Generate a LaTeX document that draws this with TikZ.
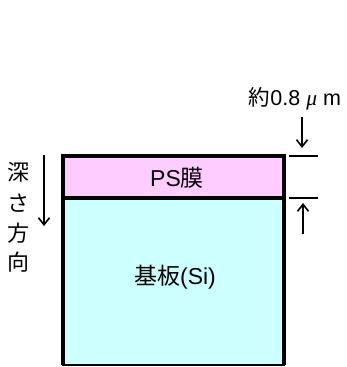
\documentclass[tikz,border=0pt]{standalone}
\usepackage{fontspec}
\setmainfont{Liberation Sans}
\newfontfamily\jp{Noto Sans CJK JP}
\usetikzlibrary{arrows.meta}
\definecolor{pspink}{HTML}{FFCCFF}
\definecolor{sicyan}{HTML}{CCFFFF}
\tikzset{
  border/.style={line width=3.4pt},
  dimline/.style={line width=1.6pt},
  arr/.style={line width=1.6pt,-{Straight Barb[length=7pt,width=11pt,line width=1.6pt]}},
  boxlbl/.style={inner sep=0pt,font=\fontsize{23}{23}\selectfont},
  lbl/.style={inner sep=0pt,font=\fontsize{21.5}{21.5}\selectfont},
  vchar/.style={inner sep=0pt,font=\jp\fontsize{22}{22}\selectfont}
}
\begin{document}
\begin{tikzpicture}[x=1pt,y=-1pt]
\useasboundingbox (0,0) rectangle (347,367);
% substrate and film
\fill[sicyan] (63,198) rectangle (284,365);
\fill[pspink] (63,156) rectangle (284,198);
\node[boxlbl] (si) at (175,277) {{\jp 基板}(Si)};
\node[boxlbl] (ps) at (177,178) {PS{\jp 膜}};
\draw[border] (63,365) -- (63,156) -- (284,156) -- (284,365);
\draw[border] (63,198) -- (284,198);
\draw[line width=2pt] (62,365) -- (285,365);
% thickness dimension
\coordinate (t1) at (289,156); \coordinate (t2) at (318,156);
\coordinate (b1) at (289,198); \coordinate (b2) at (318,198);
\draw[dimline] (t1) -- (t2);
\draw[dimline] (b1) -- (b2);
\node[lbl] (thick) at (295,99) {{\jp 約}0.8 {\fontspec{Liberation Serif}\itshape μ} m};
\coordinate (da) at (302,117); \coordinate (db) at (302,148);
\draw[arr] (da) -- (db);
\coordinate (ua) at (303,234); \coordinate (ub) at (303,203);
\draw[arr] (ua) -- (ub);
% depth direction
\coordinate (la) at (44,155); \coordinate (lb) at (44,226);
\draw[arr] (la) -- (lb);
\node[vchar] (d1) at (19,172) {深};
\node[vchar] (d2) at (19,203) {さ};
\node[vchar] (d3) at (19,233) {方};
\node[vchar] (d4) at (19,262) {向};
\end{tikzpicture}
\end{document}
